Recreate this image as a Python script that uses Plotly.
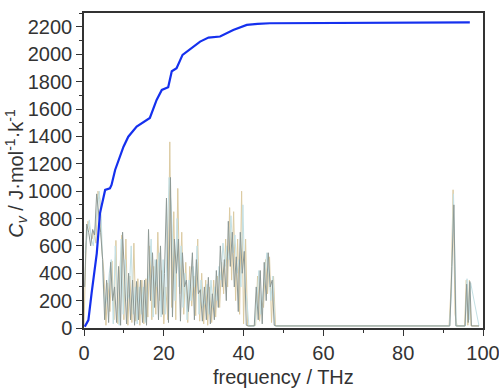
import numpy as np
import plotly.graph_objects as go

# ---- data ----
grid_step = 0.5
n_low = 97
offset_a, offset_b, offset_c = 0.0, 0.17, 0.33

cv_a = [10, 600, 780, 720, 650, 700, 620, 1000, 940, 560, 400, 20, 330, 120, 490, 60, 640, 30, 430, 680,
        60, 650, 20, 380, 40, 620, 50, 360, 20, 350, 30, 360, 80, 600, 60, 450, 100, 700, 200, 420,
        30, 300, 60, 1360, 150, 850, 60, 1020, 250, 700, 100, 480, 40, 450, 160, 380, 90, 650, 50, 400,
        30, 350, 20, 300, 40, 350, 80, 380, 150, 480, 250, 650, 300, 880, 350, 850, 200, 650, 100, 1000,
        30, 650, 15, 15, 15, 15, 20, 380, 50, 200, 150, 500, 250, 520, 40, 380, 15]
cv_b = [300, 760, 700, 600, 720, 680, 980, 850, 700, 500, 60, 350, 40, 480, 200, 300, 40, 450, 20, 700,
        350, 30, 400, 60, 350, 20, 340, 60, 350, 40, 350, 20, 720, 200, 550, 150, 500, 60, 600, 100,
        400, 950, 40, 1100, 80, 650, 400, 650, 50, 550, 300, 350, 120, 300, 550, 60, 500, 250, 280, 50,
        300, 60, 370, 30, 250, 60, 420, 150, 600, 300, 500, 200, 780, 450, 700, 300, 520, 120, 700, 400,
        560, 20, 15, 15, 15, 15, 300, 60, 420, 30, 480, 200, 550, 300, 350, 20, 15]
cv_c = [550, 700, 790, 650, 600, 750, 900, 1000, 800, 300, 150, 250, 400, 500, 30, 600, 250, 20, 650, 100,
        500, 200, 250, 600, 100, 300, 30, 300, 100, 300, 40, 300, 400, 650, 80, 500, 300, 550, 80, 500,
        100, 700, 1100, 900, 500, 200, 800, 300, 600, 150, 400, 60, 350, 200, 450, 300, 600, 100, 350, 150,
        200, 320, 100, 350, 150, 300, 200, 450, 350, 620, 450, 600, 500, 820, 550, 680, 400, 500, 300, 900,
        300, 200, 15, 15, 15, 15, 200, 420, 100, 250, 350, 550, 400, 200, 380, 15, 15]

high_freq_a = [91.5, 92.0, 92.5, 93.0, 93.5, 95.4, 95.8, 96.2, 96.6, 97.0, 99.0]
high_cv_a = [15, 300, 1010, 100, 15, 15, 350, 20, 350, 15, 15]
high_freq_b = [91.7, 92.2, 92.7, 93.2, 95.5, 95.9, 96.3, 96.7, 97.1, 99.0]
high_cv_b = [15, 450, 900, 15, 15, 320, 40, 340, 15, 15]
high_freq_c = [91.6, 92.1, 92.6, 92.9, 93.3, 95.6, 96.0, 96.5, 96.9, 99.0]
high_cv_c = [15, 250, 980, 600, 15, 15, 360, 60, 330, 15]

cum_freq = [0.2, 1.1, 1.9, 3.2, 4.0, 4.8, 5.3, 6.5, 6.9, 7.8, 9.9, 11.1, 13.2, 16.5, 18.2, 19.5, 21.1,
            22.0, 23.2, 24.7, 26.5, 28.0, 29.1, 31.2, 34.1, 37.4, 40.8, 43.5, 46.6, 96.7]
cum_cv = [10, 58, 253, 546, 838, 936, 1009, 1021, 1045, 1155, 1325, 1398, 1472, 1535, 1667, 1740, 1760,
          1876, 1898, 1996, 2035, 2070, 2093, 2122, 2130, 2178, 2215, 2222, 2227, 2233]

x_ticks = [0, 20, 40, 60, 80, 100]
y_ticks = [0, 200, 400, 600, 800, 1000, 1200, 1400, 1600, 1800, 2000, 2200]

series = [
    (offset_a, cv_a, high_freq_a, high_cv_a, "#dccba2"),
    (offset_c, cv_c, high_freq_c, high_cv_c, "#c4e0e4"),
    (offset_b, cv_b, high_freq_b, high_cv_b, "#8e9995"),
]

fig = go.Figure()
for off, vals, hf, hv, col in series:
    fx = [off + i * grid_step for i in range(n_low)] + hf
    fy = vals + hv
    fig.add_trace(go.Scatter(x=fx, y=fy, mode="lines", line=dict(color=col, width=1), showlegend=False))

fig.add_trace(go.Scatter(x=cum_freq, y=cum_cv, mode="lines", line=dict(color="#1530ee", width=2.2),
                         showlegend=False))

axis_col = "#333333"
font_main = "Liberation Sans, Arial"
fig.update_layout(
    width=499, height=388,
    margin=dict(l=84, r=16, t=13, b=60),
    paper_bgcolor="white", plot_bgcolor="white",
    xaxis=dict(range=[0, 100], tickvals=x_ticks, showgrid=False, zeroline=False, automargin=False,
               showline=True, linecolor=axis_col, linewidth=1.5, mirror=True,
               ticks="outside", ticklen=6, tickcolor=axis_col, tickwidth=1,
               ticklabeloverflow="allow",
               minor=dict(dtick=10, ticks="outside", ticklen=3, tickcolor=axis_col),
               tickfont=dict(family=font_main, size=20, color="#333333")),
    yaxis=dict(range=[0, 2302], tickvals=y_ticks, showgrid=False, zeroline=False, automargin=False,
               showline=True, linecolor=axis_col, linewidth=1.5, mirror=True,
               ticks="outside", ticklen=6, tickcolor=axis_col, tickwidth=1,
               ticklabeloverflow="allow",
               minor=dict(dtick=100, ticks="outside", ticklen=3, tickcolor=axis_col),
               tickfont=dict(family=font_main, size=20, color="#333333")),
    annotations=[
        dict(text="frequency / THz", xref="paper", yref="paper", x=0.5, y=-0.155,
             xanchor="center", yanchor="middle", showarrow=False,
             font=dict(family=font_main, size=20, color="#333333")),
        dict(text="<i>C</i><sub><i>v</i></sub> / J·mol<sup>-1</sup>·k<sup>-1</sup>", xref="paper", yref="paper",
             x=-0.17, y=0.49, xanchor="center", yanchor="middle", textangle=-90, showarrow=False,
             font=dict(family=font_main, size=20, color="#333333")),
    ],
)

fig.write_html("out.html", config={"displayModeBar": False},
               post_script="document.body.style.margin='0px';")
